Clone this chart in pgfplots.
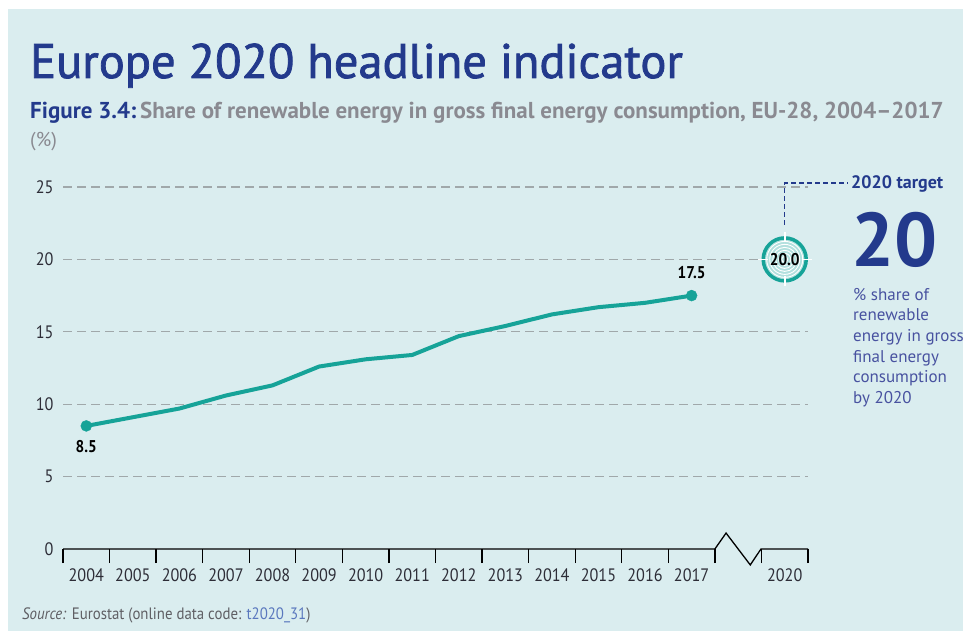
\documentclass[border=0pt]{standalone}
\usepackage{fontspec}
\setmainfont{PT Sans}[FakeStretch=0.9]
\newfontfamily\plainfont{PT Sans}[Ligatures=TeX]
\newfontfamily\titlefont{PT Sans}[FakeBold=1.6]
\usepackage{pgfplots}
\pgfplotsset{compat=1.18}
\definecolor{bgblue}{RGB}{218,237,239}
\definecolor{titleblue}{RGB}{35,58,140}
\definecolor{teal2}{RGB}{22,163,152}
\definecolor{gridgray}{RGB}{160,168,170}
\definecolor{subgray}{RGB}{138,138,145}
\definecolor{desc}{RGB}{72,82,160}
\definecolor{ticktext}{RGB}{45,45,55}
\definecolor{ringfill}{RGB}{178,224,222}
\definecolor{srcgray}{RGB}{95,95,100}
\definecolor{linkblue}{RGB}{90,120,190}

\pgfdeclareplotmark{target}{%
  \pgfpathcircle{\pgfpointorigin}{22pt}%
  \pgfsetfillcolor{ringfill}\pgfusepathqfill
  \pgfsetstrokecolor{white}\pgfsetlinewidth{0.9pt}%
  \foreach \r in {3,6,9,12,15,18}{\pgfpathcircle{\pgfpointorigin}{\r pt}\pgfusepathqstroke}%
  \pgfsetstrokecolor{teal2}\pgfsetlinewidth{3.5pt}%
  \pgfpathcircle{\pgfpointorigin}{21.5pt}\pgfusepathqstroke
  \pgfsetstrokecolor{white}\pgfsetlinewidth{1.6pt}%
  \pgfpathmoveto{\pgfpoint{0pt}{17pt}}\pgfpathlineto{\pgfpoint{0pt}{27pt}}%
  \pgfpathmoveto{\pgfpoint{0pt}{-17pt}}\pgfpathlineto{\pgfpoint{0pt}{-27pt}}%
  \pgfpathmoveto{\pgfpoint{17pt}{0pt}}\pgfpathlineto{\pgfpoint{27pt}{0pt}}%
  \pgfpathmoveto{\pgfpoint{-17pt}{0pt}}\pgfpathlineto{\pgfpoint{-27pt}{0pt}}%
  \pgfusepathqstroke
}

\begin{document}
\begin{tikzpicture}
\useasboundingbox (0,0) rectangle (963pt,631pt);
\fill[white] (0,0) rectangle (963pt,631pt);
\fill[bgblue] (8pt,0pt) rectangle (963pt,622pt);

\node[anchor=base west, inner sep=0, text=titleblue, font=\titlefont\fontsize{48.5}{48.5}\selectfont] at (30pt,553pt) {Europe 2020 headline indicator};
\node[anchor=base west, inner sep=0, font=\plainfont\fontsize{23}{23}\selectfont\bfseries] at (30pt,512pt) {\textcolor{titleblue}{Figure 3.4:}\,\textcolor{subgray}{Share of renewable energy in gross final energy consumption, EU-28, 2004--2017}};
\node[anchor=base west, inner sep=0, text=subgray, font=\plainfont\fontsize{20}{20}\selectfont] at (30pt,484pt) {(\%)};
\node[anchor=base west, inner sep=0, text=srcgray, font=\fontsize{16.5}{16.5}\selectfont] at (22pt,11pt) {\textit{Source:} Eurostat (online data code: \textcolor{linkblue}{t2020\_31})};

\node[anchor=base west, inner sep=0, text=titleblue, font=\plainfont\fontsize{18}{18}\selectfont\bfseries] at (851pt,442pt) {2020 target};
\node[anchor=base west, inner sep=0, text=titleblue, font=\plainfont\fontsize{76}{76}\selectfont\bfseries] at (851pt,364pt) {20};
\node[anchor=north west, inner sep=0, text=desc, align=left, font=\plainfont\fontsize{17}{20.6}\selectfont] at (853pt,343pt) {\% share of\\renewable\\energy in gross\\final energy\\consumption\\by 2020};

\begin{axis}[
  at={(63pt,82pt)}, anchor=south west, scale only axis,
  width=745pt, height=362pt,
  xmin=-0.5, xmax=15.5, ymin=0, ymax=25, clip=false,
  axis line style={draw=none},
  xtick={0,1,2,3,4,5,6,7,8,9,10,11,12,13,15},
  xticklabels={2004,2005,2006,2007,2008,2009,2010,2011,2012,2013,2014,2015,2016,2017,2020},
  xtick pos=bottom, ytick pos=left,
  major tick length=0pt,
  ytick={5,10,15,20,25},
  extra y ticks={0}, extra y tick style={grid=none},
  ymajorgrids,
  grid style={gridgray, line width=1.3pt, dash pattern=on 9pt off 5pt},
  extra x ticks={-0.5,0.5,1.5,2.5,3.5,4.5,5.5,6.5,7.5,8.5,9.5,10.5,11.5,12.5,13.5,14.5,15.5},
  extra x tick labels={},
  extra x tick style={grid=none, major tick length=14pt, tick align=outside, tick style={black, line width=1.3pt}},
  /pgf/number format/assume math mode=true,
  tick label style={font=\fontsize{18}{18}\selectfont, text=ticktext},
  yticklabel style={xshift=-6pt},
  xticklabel style={yshift=-16pt},
]
\addplot[teal2, line width=4pt, line join=round, mark=none] coordinates {
(0,8.5) (1,9.1) (2,9.7) (3,10.6) (4,11.3) (5,12.6) (6,13.1) (7,13.4) (8,14.7) (9,15.4) (10,16.2) (11,16.7) (12,17.0) (13,17.5)};
\addplot[teal2, only marks, mark=*, mark size=5.5pt, nodes near coords, point meta=explicit symbolic,
  every node near coord/.style={anchor=north, yshift=-11pt, text=black, font=\fontsize{17}{17}\selectfont\bfseries}]
  coordinates {(0,8.5) [8.5]};
\addplot[teal2, only marks, mark=*, mark size=5.5pt, nodes near coords, point meta=explicit symbolic,
  every node near coord/.style={anchor=south, yshift=13pt, text=black, font=\fontsize{17}{17}\selectfont\bfseries}]
  coordinates {(13,17.5) [17.5]};
\draw[black, line width=1.3pt, line join=miter] (axis cs:-0.5,0) -- (axis cs:13.5,0) -- (axis cs:13.74,1.1) -- (axis cs:14.26,-1.1) -- (axis cs:14.49,0) -- (axis cs:15.5,0);
\draw[titleblue, line width=1.5pt, dash pattern=on 5pt off 3pt] (axis cs:15,22.4) -- (axis cs:15,25.28) -- (axis cs:16.36,25.28);
\addplot[only marks, mark=target, nodes near coords, point meta=explicit symbolic,
  every node near coord/.style={anchor=center, text=black, font=\fontsize{17}{17}\selectfont\bfseries}]
  coordinates {(15,20) [20.0]};
\end{axis}
\end{tikzpicture}
\end{document}
